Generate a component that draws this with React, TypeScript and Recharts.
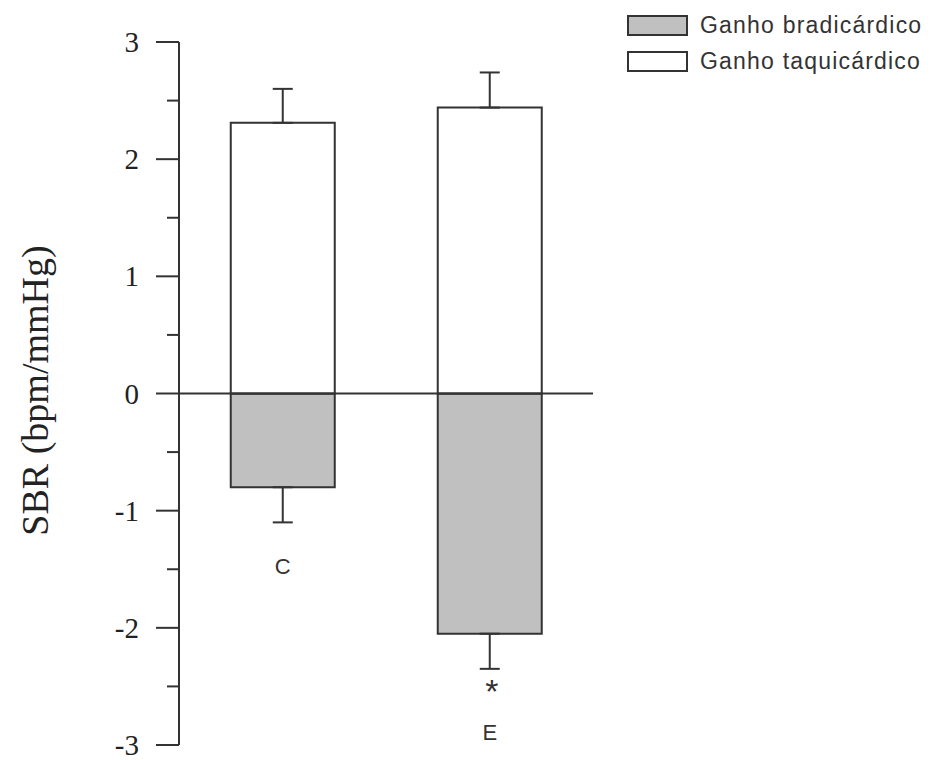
import { BarChart, Bar, XAxis, YAxis, ReferenceLine, ErrorBar, LabelList } from 'recharts'

const groups = ['C', 'E']
const bradGain = [-0.8, -2.05]
const bradSem = [0.3, 0.3]
const taquiGain = [2.31, 2.44]
const taquiSem = [0.29, 0.3]
const significant = [false, true]
const yTicks = [-3, -2.5, -2, -1.5, -1, -0.5, 0, 0.5, 1, 1.5, 2, 2.5, 3]
const seriesNames = ['Ganho bradicárdico', 'Ganho taquicárdico']
const seriesFills = ['#c0c0c0', '#ffffff']

const data = groups.map((g, i) => ({
  group: g,
  brad: bradGain[i],
  bradErr: [bradSem[i], 0],
  taqui: taquiGain[i],
  taquiErr: [0, taquiSem[i]],
}))

const ink = '#333333'
const serif = "'Liberation Serif', 'Times New Roman', serif"
const sans = "'Liberation Sans', Arial, sans-serif"

function YTick(props: any) {
  const { x, y, payload } = props
  const major = Number.isInteger(payload.value)
  return (
    <g>
      <line x1={x - (major ? 23 : 12)} y1={y} x2={x} y2={y} stroke={ink} strokeWidth={2} />
      {major && (
        <text x={x - 40} y={y} textAnchor="end" dominantBaseline="central" fontFamily={serif} fontSize={29} fill="#222">
          {payload.value}
        </text>
      )}
    </g>
  )
}

function AxisTitle(props: any) {
  const { viewBox } = props
  const cx = viewBox.x - 84
  const cy = viewBox.y + viewBox.height / 2 - 3
  return (
    <text x={cx} y={cy} transform={`rotate(-90 ${cx} ${cy})`} textAnchor="middle" dominantBaseline="central"
      fontFamily={serif} fontSize={38} fill="#222">
      SBR (bpm/mmHg)
    </text>
  )
}

function GroupLabel(props: any) {
  const { viewBox, index } = props
  const { x, y, width, height } = viewBox
  const bottom = Math.max(y, y + height)
  const errPx = (Math.abs(height) * bradSem[index]) / Math.abs(bradGain[index])
  const cx = x + width / 2
  const base = bottom + errPx
  return (
    <g>
      {significant[index] && (
        <text x={cx + 2} y={base + 22} textAnchor="middle" dominantBaseline="central" fontFamily={sans} fontSize={34} fill={ink}>
          *
        </text>
      )}
      <text x={cx} y={base + (significant[index] ? 64 : 44)} textAnchor="middle" dominantBaseline="central"
        fontFamily={sans} fontSize={22} fill={ink}>
        {groups[index]}
      </text>
    </g>
  )
}

export default function App() {
  return (
    <div style={{ position: 'absolute', left: 0, top: 0, width: 932, height: 760, background: '#fff' }}>
      <BarChart width={932} height={760} data={data} stackOffset="sign" barCategoryGap="25%"
        margin={{ top: 42, right: 339, bottom: 15, left: 119 }}>
        <XAxis dataKey="group" hide />
        <YAxis domain={[-3, 3]} ticks={yTicks} interval={0} allowDataOverflow width={60}
          tickSize={0} tickMargin={0} tickLine={false} tick={<YTick />}
          axisLine={{ stroke: ink, strokeWidth: 2 }}
          label={<AxisTitle />} />
        <Bar dataKey="brad" stackId="a" fill={seriesFills[0]} stroke={ink} strokeWidth={2} isAnimationActive={false}>
          <ErrorBar dataKey="bradErr" width={10} stroke={ink} strokeWidth={2} direction="y" />
          <LabelList dataKey="brad" content={<GroupLabel />} />
        </Bar>
        <Bar dataKey="taqui" stackId="a" fill={seriesFills[1]} stroke={ink} strokeWidth={2} isAnimationActive={false}>
          <ErrorBar dataKey="taquiErr" width={10} stroke={ink} strokeWidth={2} direction="y" />
        </Bar>
        <ReferenceLine y={0} stroke={ink} strokeWidth={2} />
      </BarChart>
      <div style={{ position: 'absolute', left: 627, top: 15, fontFamily: sans }}>
        {seriesNames.map((name, i) => (
          <div key={name} style={{ display: 'flex', alignItems: 'center', height: 21, marginBottom: 15 }}>
            <div style={{ width: 57, height: 17, background: seriesFills[i], border: `2px solid ${ink}` }} />
            <span style={{ marginLeft: 12, fontSize: 23, color: '#333', letterSpacing: 1.2, whiteSpace: 'nowrap' }}>{name}</span>
          </div>
        ))}
      </div>
    </div>
  )
}
